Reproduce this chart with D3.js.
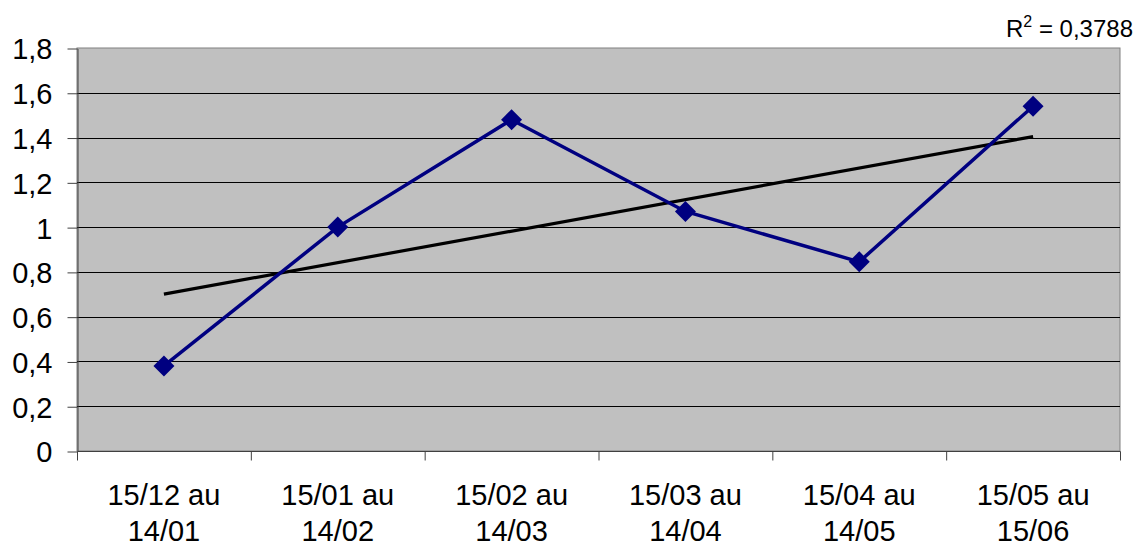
<!DOCTYPE html>
<html>
<head>
<meta charset="utf-8">
<script src="https://cdn.jsdelivr.net/npm/d3@7"></script>
<style>
  html, body { margin: 0; padding: 0; background: #fff; }
  svg { display: block; font-family: "Liberation Sans", Arial, sans-serif; }
</style>
</head>
<body>
<svg id="chart" width="1142" height="546"></svg>
<script>
// Periods (two-line labels) and monthly values
const periodLine1 = ["15/12 au", "15/01 au", "15/02 au", "15/03 au", "15/04 au", "15/05 au"];
const periodLine2 = ["14/01", "14/02", "14/03", "14/04", "14/05", "15/06"];
const values = [0.38, 1.0, 1.48, 1.07, 0.845, 1.54];
const yTicks = [0, 0.2, 0.4, 0.6, 0.8, 1, 1.2, 1.4, 1.6, 1.8];
const r2Label = "0,3788";

const svg = d3.select("#chart");
const plot = { left: 77, right: 1120, top: 48, bottom: 451 };

const x = d3.scaleBand()
  .domain(d3.range(values.length))
  .range([plot.left, plot.right])
  .paddingInner(0).paddingOuter(0);

const y = d3.scaleLinear().domain([0, 1.8]).range([plot.bottom, plot.top]);

const cx = i => x(i) + x.bandwidth() / 2;

// Plot background
svg.append("rect")
  .attr("x", plot.left).attr("y", plot.top)
  .attr("width", plot.right - plot.left).attr("height", plot.bottom - plot.top)
  .attr("fill", "#c0c0c0")
  .attr("stroke", "#808080").attr("stroke-width", 1);

// Horizontal gridlines
svg.append("g")
  .selectAll("line")
  .data(yTicks.filter(t => t > 0 && t < 1.8))
  .join("line")
  .attr("x1", plot.left).attr("x2", plot.right)
  .attr("y1", d => Math.round(y(d)) + 0.5).attr("y2", d => Math.round(y(d)) + 0.5)
  .attr("stroke", "#000").attr("stroke-width", 1);

// Y axis
const fmt = d => d3.format("~g")(d).replace(".", ",");
const yAxis = svg.append("g")
  .attr("transform", `translate(${plot.left + 0.5},0.5)`)
  .call(d3.axisLeft(y).tickValues(yTicks).tickSize(10).tickSizeOuter(0).tickPadding(15).tickFormat(fmt));
yAxis.select(".domain").attr("stroke", "#404040");
yAxis.selectAll(".tick line").attr("stroke", "#404040");
yAxis.selectAll(".tick text")
  .attr("font-size", 29).attr("fill", "#000")
  .attr("dy", "0.36em");

// X axis with ticks on category boundaries
const xAxisG = svg.append("g").attr("transform", `translate(0.5,${plot.bottom + 0.5})`);
xAxisG.append("line")
  .attr("x1", plot.left).attr("x2", plot.right)
  .attr("stroke", "#404040");
xAxisG.selectAll("line.tk")
  .data(d3.range(values.length + 1))
  .join("line").attr("class", "tk")
  .attr("x1", i => i < values.length ? x(i) : plot.right)
  .attr("x2", i => i < values.length ? x(i) : plot.right)
  .attr("y1", 0).attr("y2", 9)
  .attr("stroke", "#404040");

const xLabels = svg.append("g").attr("font-size", 29).attr("text-anchor", "middle").attr("fill", "#000");
xLabels.selectAll("text.l1").data(periodLine1).join("text").attr("class", "l1")
  .attr("x", (d, i) => cx(i)).attr("y", 505).text(d => d);
xLabels.selectAll("text.l2").data(periodLine2).join("text").attr("class", "l2")
  .attr("x", (d, i) => cx(i)).attr("y", 541).text(d => d);

// Linear trend (least squares on category index)
const xs = values.map((d, i) => i + 1);
const mx = d3.mean(xs), my = d3.mean(values);
const slope = d3.sum(xs, (xi, i) => (xi - mx) * (values[i] - my)) / d3.sum(xs, xi => (xi - mx) ** 2);
const intercept = my - slope * mx;
svg.append("line")
  .attr("x1", cx(0)).attr("y1", y(intercept + slope * 1))
  .attr("x2", cx(values.length - 1)).attr("y2", y(intercept + slope * values.length))
  .attr("stroke", "#000").attr("stroke-width", 3.2);

// Data line
svg.append("path")
  .datum(values)
  .attr("fill", "none")
  .attr("stroke", "#000080").attr("stroke-width", 3.5)
  .attr("d", d3.line().x((d, i) => cx(i)).y(d => y(d)));

// Diamond markers
svg.append("g").selectAll("path")
  .data(values)
  .join("path")
  .attr("transform", (d, i) => `translate(${cx(i)},${y(d)})`)
  .attr("d", "M0,-10.5L10.5,0L0,10.5L-10.5,0Z")
  .attr("fill", "#000080");

// R² annotation
const r2 = svg.append("text")
  .attr("x", 1133).attr("y", 37).attr("text-anchor", "end")
  .attr("font-size", 24).attr("fill", "#000");
r2.append("tspan").text("R");
r2.append("tspan").attr("font-size", 16).attr("dy", -10).text("2");
r2.append("tspan").attr("dy", 10).text(" = " + r2Label);
</script>
</body>
</html>
